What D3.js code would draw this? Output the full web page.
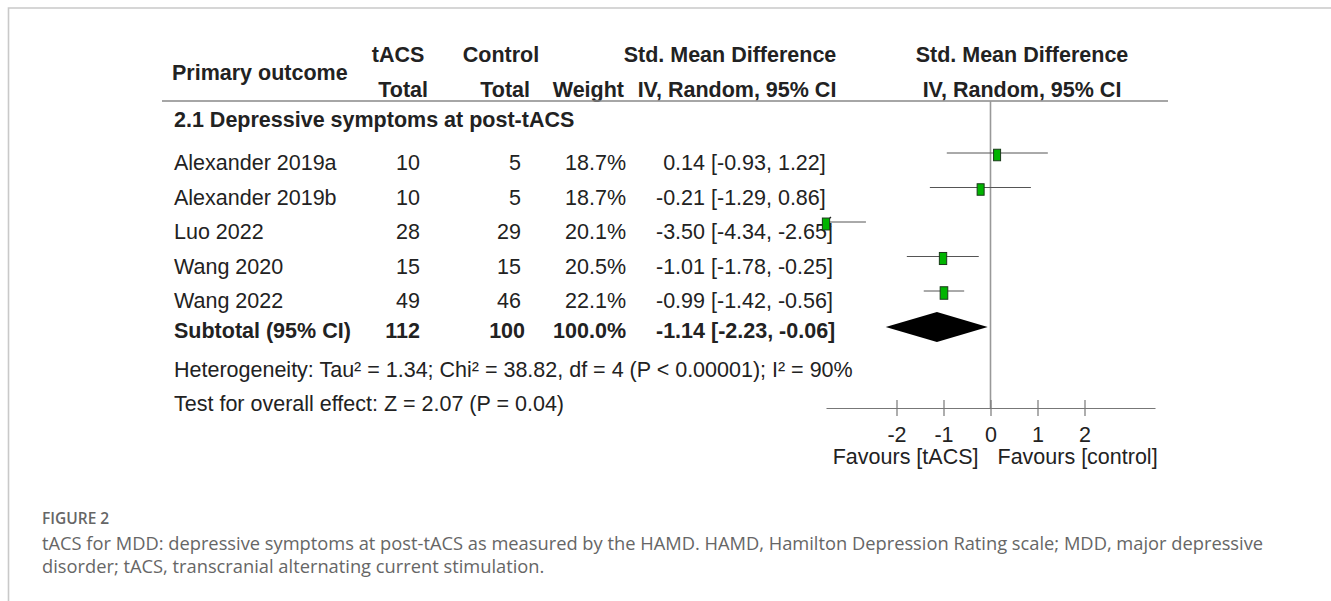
<!DOCTYPE html>
<html>
<head>
<meta charset="utf-8">
<script src="https://cdn.jsdelivr.net/npm/d3@7"></script>
<style>
  html, body { margin: 0; padding: 0; background: #fff; }
  svg { display: block; }
  .t { font-family: "Liberation Sans", Arial, sans-serif; font-size: 21.5px; fill: #222; }
  .b { font-weight: bold; }
  .cap { font-family: "Open Sans", sans-serif; fill: #666; }
</style>
</head>
<body>
<svg id="chart" width="1331" height="601"></svg>
<script>
// ---- data ----
const studies = ["Alexander 2019a", "Alexander 2019b", "Luo 2022", "Wang 2020", "Wang 2022"];
const tacsTotal = [10, 10, 28, 15, 49];
const controlTotal = [5, 5, 29, 15, 46];
const weights = [18.7, 18.7, 20.1, 20.5, 22.1];
const smd = [0.14, -0.21, -3.50, -1.01, -0.99];
const ciLower = [-0.93, -1.29, -4.34, -1.78, -1.42];
const ciUpper = [1.22, 0.86, -2.65, -0.25, -0.56];
const subtotalLabel = "Subtotal (95% CI)";
const subtotalTacs = 112;
const subtotalControl = 100;
const subtotalWeight = 100.0;
const subtotalSmd = -1.14;
const subtotalLower = -2.23;
const subtotalUpper = -0.06;
const axisTicks = [-2, -1, 0, 1, 2];
const axisDomain = [-3.5, 3.5];
const sectionTitle = "2.1 Depressive symptoms at post-tACS";
const heterogeneityText = "Heterogeneity: Tau² = 1.34; Chi² = 38.82, df = 4 (P < 0.00001); I² = 90%";
const overallText = "Test for overall effect: Z = 2.07 (P = 0.04)";
const favoursLeft = "Favours [tACS]";
const favoursRight = "Favours [control]";
const figureLabel = "FIGURE 2";
const captionLines = [
  "tACS for MDD: depressive symptoms at post-tACS as measured by the HAMD. HAMD, Hamilton Depression Rating scale; MDD, major depressive",
  "disorder; tACS, transcranial alternating current stimulation."
];

// ---- layout ----
const svg = d3.select("#chart");
const f2 = d => d.toFixed(2);
const x = d3.scaleLinear().domain(axisDomain).range([826, 1155]);
const rowBase = d3.scaleLinear().domain([0, 1]).range([170, 204.5]); // baseline per row index
const markOffset = -17;
const axisY = 408;

// frame
svg.append("path").attr("d", "M8.5,601 V8 H1331").attr("fill", "none")
  .attr("stroke", "#c9c9c9").attr("stroke-width", 1.6);

// headers
const hdr = (txt, xx, y, anchor) => svg.append("text").attr("class", "t b")
  .attr("x", xx).attr("y", y).attr("text-anchor", anchor).text(txt);
hdr("tACS", 398, 62, "middle");
hdr("Control", 501, 62, "middle");
hdr("Std. Mean Difference", 730, 62, "middle");
hdr("Std. Mean Difference", 1022, 62, "middle");
hdr("Primary outcome", 172, 80, "start");
hdr("Total", 428, 97, "end");
hdr("Total", 530, 97, "end");
hdr("Weight", 624, 97, "end");
hdr("IV, Random, 95% CI", 737, 97, "middle");
hdr("IV, Random, 95% CI", 1022, 97, "middle");

svg.append("line").attr("x1", 162).attr("x2", 1168).attr("y1", 101).attr("y2", 101)
  .attr("stroke", "#888").attr("stroke-width", 1.5);

svg.append("text").attr("class", "t b").attr("x", 174).attr("y", 127).text(sectionTitle);

// zero line
svg.append("line").attr("x1", x(0)).attr("x2", x(0)).attr("y1", 101).attr("y2", axisY)
  .attr("stroke", "#999").attr("stroke-width", 1.6);

// study rows
const rows = svg.append("g").selectAll("g").data(studies).join("g")
  .attr("transform", (d, i) => `translate(0,${rowBase(i)})`);
rows.append("text").attr("class", "t").attr("x", 174).text(d => d);
rows.append("text").attr("class", "t").attr("x", 420).attr("text-anchor", "end").text((d, i) => tacsTotal[i]);
rows.append("text").attr("class", "t").attr("x", 521).attr("text-anchor", "end").text((d, i) => controlTotal[i]);
rows.append("text").attr("class", "t").attr("x", 626).attr("text-anchor", "end").text((d, i) => weights[i].toFixed(1) + "%");
rows.append("text").attr("class", "t").attr("x", 705).attr("text-anchor", "end").text((d, i) => f2(smd[i]));
rows.append("text").attr("class", "t").attr("x", 711).text((d, i) => `[${f2(ciLower[i])}, ${f2(ciUpper[i])}]`);

// CI lines (clipped to axis range) and squares
const [xmin, xmax] = x.range();
rows.append("line")
  .attr("x1", (d, i) => Math.max(xmin, x(ciLower[i])))
  .attr("x2", (d, i) => Math.min(xmax, x(ciUpper[i])))
  .attr("y1", markOffset).attr("y2", markOffset)
  .attr("stroke", "#555").attr("stroke-width", 1);
rows.filter((d, i) => x(ciLower[i]) < xmin).append("path")
  .attr("d", `M${xmin + 5},${markOffset - 5} L${xmin},${markOffset} L${xmin + 5},${markOffset + 5}`)
  .attr("fill", "none").attr("stroke", "#222").attr("stroke-width", 1.2);
rows.append("rect")
  .attr("width", (d, i) => 7 * Math.sqrt(weights[i] / 18.7))
  .attr("height", (d, i) => 11.5 * Math.sqrt(weights[i] / 18.7))
  .attr("x", (d, i) => Math.max(xmin, x(smd[i])) - 3.5 * Math.sqrt(weights[i] / 18.7))
  .attr("y", (d, i) => markOffset - 5.75 * Math.sqrt(weights[i] / 18.7) + 2)
  .attr("fill", "#00b400").attr("stroke", "#1a3a1a").attr("stroke-width", 1);

// subtotal row
const sub = svg.append("g").attr("transform", "translate(0,338)");
sub.append("text").attr("class", "t b").attr("x", 174).text(subtotalLabel);
sub.append("text").attr("class", "t b").attr("x", 420).attr("text-anchor", "end").text(subtotalTacs);
sub.append("text").attr("class", "t b").attr("x", 525).attr("text-anchor", "end").text(subtotalControl);
sub.append("text").attr("class", "t b").attr("x", 626).attr("text-anchor", "end").text(subtotalWeight.toFixed(1) + "%");
sub.append("text").attr("class", "t b").attr("x", 705).attr("text-anchor", "end").text(f2(subtotalSmd));
sub.append("text").attr("class", "t b").attr("x", 711).text(`[${f2(subtotalLower)}, ${f2(subtotalUpper)}]`);
const dy = -11, dh = 15;
sub.append("path")
  .attr("d", `M${x(subtotalLower)},${dy} L${x(subtotalSmd)},${dy - dh} L${x(subtotalUpper)},${dy} L${x(subtotalSmd)},${dy + dh} Z`)
  .attr("fill", "#000");

// heterogeneity / overall
svg.append("text").attr("class", "t").attr("x", 174).attr("y", 377).text(heterogeneityText);
svg.append("text").attr("class", "t").attr("x", 174).attr("y", 411).text(overallText);

// axis
const axis = d3.axisBottom(x).tickValues(axisTicks).tickSize(8).tickSizeOuter(0).tickFormat(d => String(d));
const ag = svg.append("g").attr("transform", `translate(0,${axisY})`).call(axis);
ag.select(".domain").attr("stroke", "#777").attr("stroke-width", 1.2);
ag.selectAll(".tick line").attr("y1", -8).attr("y2", 8).attr("stroke", "#777").attr("stroke-width", 1.2);
ag.selectAll(".tick text").attr("class", "t").attr("y", 34).attr("dy", 0)
  .style("font-family", "'Liberation Sans', Arial, sans-serif").style("font-size", "21.5px").attr("fill", "#222");

svg.append("text").attr("class", "t").attr("x", x(0) - 12).attr("y", 464).attr("text-anchor", "end").text(favoursLeft);
svg.append("text").attr("class", "t").attr("x", x(0) + 7).attr("y", 464).text(favoursRight);

// caption
svg.append("text").attr("class", "cap").attr("x", 42).attr("y", 524)
  .style("font-size", "15.5px").style("font-weight", 600).text(figureLabel);
svg.append("g").selectAll("text").data(captionLines).join("text").attr("class", "cap")
  .attr("x", 42).attr("y", (d, i) => 550 + i * 23).style("font-size", "18.3px").text(d => d);
</script>
</body>
</html>
